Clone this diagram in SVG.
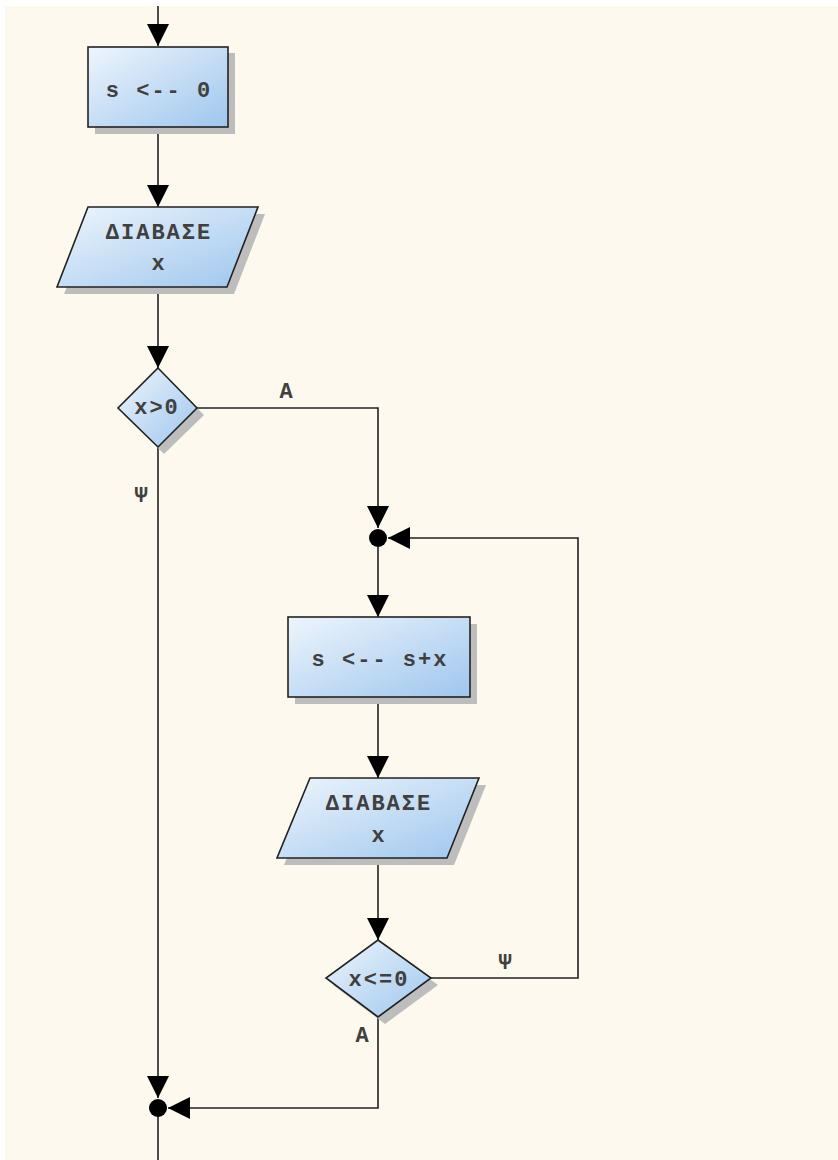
<svg xmlns="http://www.w3.org/2000/svg" width="838" height="1160" viewBox="0 0 838 1160">
<defs>
<linearGradient id="g" x1="0" y1="0" x2="1" y2="1">
<stop offset="0" stop-color="#EEF5FC"/>
<stop offset="1" stop-color="#9EC6EE"/>
</linearGradient>
<marker id="ah" markerUnits="userSpaceOnUse" markerWidth="22" markerHeight="22" viewBox="0 0 20 20" refX="20" refY="10" orient="auto">
<path d="M0,0 L20,10 L0,20 Z" fill="#000"/>
</marker>
<style>
.shape{fill:url(#g);stroke:#222;stroke-width:1.6}
.shadow{fill:#BDBDBD}
.t{font-family:"Liberation Mono","Courier New",monospace;font-size:22px;letter-spacing:2px;font-weight:bold;fill:#404040;text-anchor:middle}
.lbl{font-family:"Liberation Mono","Courier New",monospace;font-size:22px;font-weight:bold;fill:#404040;text-anchor:middle}
.c{fill:none;stroke:#222;stroke-width:1.6}
.j{fill:#000}
</style>
</defs>
<rect width="838" height="1160" fill="#FFFFFF"/>
<rect x="5" y="6" width="833" height="1154" fill="#FDF9EE"/>
<g id="connectors">
<path class="c" d="M158,6 V46" marker-end="url(#ah)"/>
<path class="c" d="M158,127 V207" marker-end="url(#ah)"/>
<path class="c" d="M158,287 V368" marker-end="url(#ah)"/>
<path class="c" d="M197,408 H378 V528" marker-end="url(#ah)"/>
<path class="c" d="M378,538 V617" marker-end="url(#ah)"/>
<path class="c" d="M378,697 V778" marker-end="url(#ah)"/>
<path class="c" d="M378,858 V940" marker-end="url(#ah)"/>
<path class="c" d="M431,978 H578 V538 H388" marker-end="url(#ah)"/>
<path class="c" d="M158,447 V1098" marker-end="url(#ah)"/>
<path class="c" d="M378,1017 V1108 H168" marker-end="url(#ah)"/>
<path class="c" d="M158,1108 V1160"/>
<text class="lbl" x="286" y="398">A</text>
<text class="lbl" x="141" y="502">Ψ</text>
<text class="lbl" x="505" y="969">Ψ</text>
<text class="lbl" x="362" y="1042">A</text>
</g>
<g id="n1">
<rect class="shadow" x="95" y="53" width="140" height="81"/>
<rect class="shape" x="88" y="47" width="140" height="80"/>
<text class="t" x="159" y="97">s &lt;-- 0</text>
</g>
<g id="n2">
<polygon class="shadow" points="95,214 265,214 234,294 64,294"/>
<polygon class="shape" points="88,207 258,207 227,287 57,287"/>
<text class="t" x="159" y="239">ΔΙΑΒΑΣΕ</text>
<text class="t" x="159" y="270">x</text>
</g>
<g id="n3">
<polygon class="shadow" points="164,375 204,415 164,454 124,415"/>
<polygon class="shape" points="158,368 197,408 158,447 118,408"/>
<text class="t" x="157" y="414">x&gt;0</text>
</g>
<g id="j1">
<circle class="j" cx="378" cy="538" r="9"/>
</g>
<g id="n4">
<rect class="shadow" x="295" y="624" width="182" height="80"/>
<rect class="shape" x="288" y="617" width="182" height="80"/>
<text class="t" x="380" y="666">s &lt;-- s+x</text>
</g>
<g id="n5">
<polygon class="shadow" points="317,785 486,785 454,865 284,865"/>
<polygon class="shape" points="310,778 479,778 447,858 277,858"/>
<text class="t" x="379" y="810">ΔΙΑΒΑΣΕ</text>
<text class="t" x="379" y="842">x</text>
</g>
<g id="n6">
<polygon class="shadow" points="385,947 438,985 385,1024 333,985"/>
<polygon class="shape" points="378,940 431,978 378,1017 326,978"/>
<text class="t" x="379" y="986">x&lt;=0</text>
</g>
<g id="j2">
<circle class="j" cx="158" cy="1108" r="9"/>
</g>
</svg>
